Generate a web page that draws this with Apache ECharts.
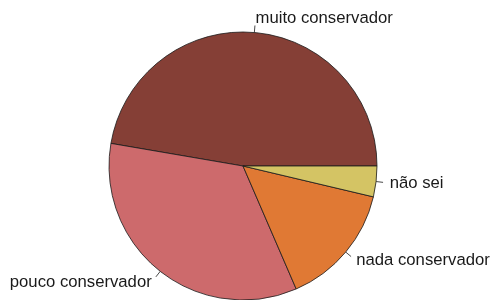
<!DOCTYPE html>
<html>
<head>
<meta charset="utf-8">
<script src="https://cdn.jsdelivr.net/npm/echarts@6/dist/echarts.min.js"></script>
<style>
  html, body { margin: 0; padding: 0; background: #fff; }
  #main { width: 492px; height: 300px; }
</style>
</head>
<body>
<div id="main"></div>
<script>
// categorias e percentuais
var categorias = ['muito conservador', 'pouco conservador', 'nada conservador', 'não sei'];
var valores = [47.3, 34.2, 14.8, 3.7];
var cores = ['#853F36', '#CD6A6C', '#E07934', '#D4C464'];

var dados = categorias.map(function (nome, i) {
  return { name: nome, value: valores[i], itemStyle: { color: cores[i] } };
});

var myChart = echarts.init(document.getElementById('main'), null, { renderer: 'canvas' });

var option = {
  animation: false,
  backgroundColor: '#ffffff',
  series: [{
    type: 'pie',
    center: [243, 166],
    radius: 134,
    startAngle: 0,
    clockwise: false,
    avoidLabelOverlap: false,
    minAngle: 0,
    data: dados,
    itemStyle: { borderColor: '#1a1a1a', borderWidth: 0.8 },
    label: {
      show: true,
      position: 'outside',
      color: '#1a1a1a',
      fontFamily: 'Liberation Sans',
      fontSize: 16.7
    },
    labelLine: {
      show: true,
      length: 7,
      length2: 0,
      lineStyle: { color: '#1a1a1a', width: 0.8 }
    },
    // texto a 1.1 do raio, como no pie() do R; traço só até 1.05
    labelLayout: function (p) {
      var pts = p.labelLinePoints;
      if (!pts) return {};
      var dx = pts[1][0] - pts[0][0], dy = pts[1][1] - pts[0][1];
      var len = Math.sqrt(dx * dx + dy * dy) || 1;
      dx /= len; dy /= len;
      return {
        x: pts[1][0] + dx * 6.7,
        y: pts[1][1] + dy * 6.7,
        align: dx >= 0 ? 'left' : 'right',
        verticalAlign: 'middle',
        labelLinePoints: [pts[0].slice(), pts[1].slice(), pts[1].slice()]
      };
    },
    emphasis: { disabled: true }
  }]
};

myChart.setOption(option);
</script>
</body>
</html>
